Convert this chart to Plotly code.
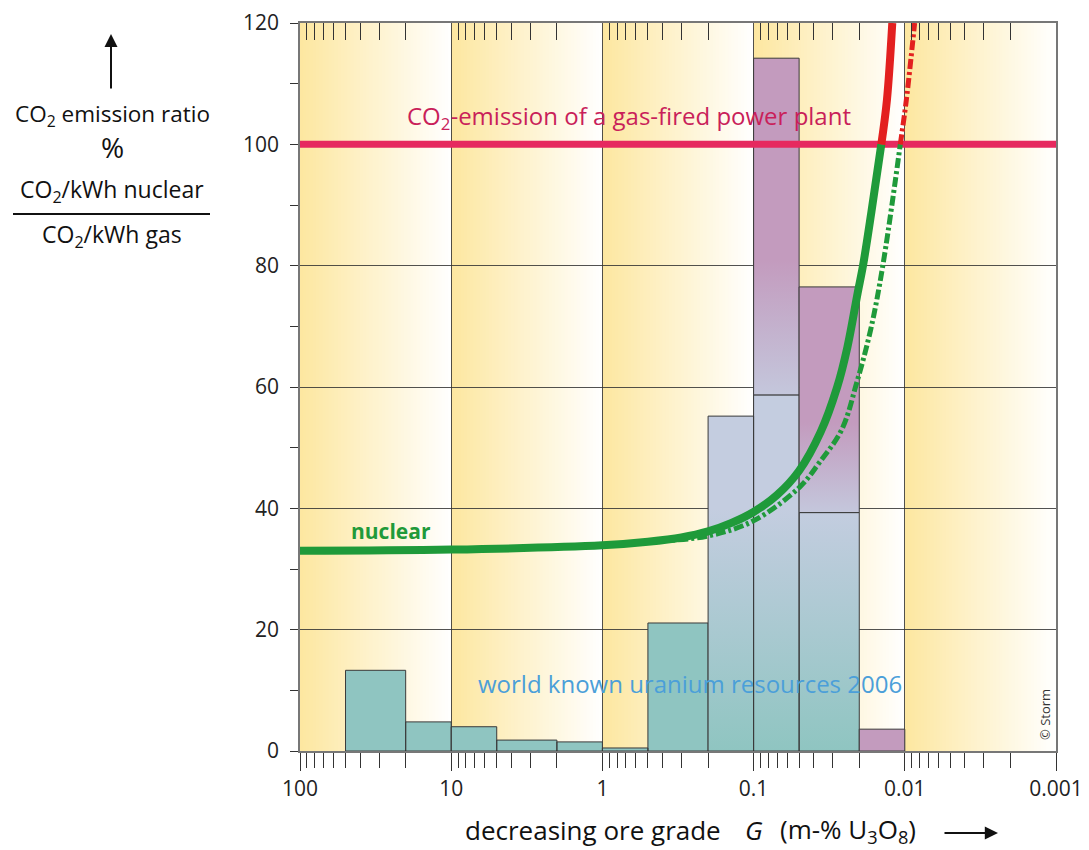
import plotly.graph_objects as go
import math

# ---------------- data ----------------
decades = [100, 10, 1, 0.1, 0.01, 0.001]
decade_labels = ["100", "10", "1", "0.1", "0.01", "0.001"]
y_ticks = [0, 20, 40, 60, 80, 100, 120]

# ore-grade bins of the uranium resources histogram (m-% U3O8)
bin_edges = [50, 20, 10, 5, 2, 1, 0.5, 0.2, 0.1, 0.05, 0.02, 0.01]
resources_lower = [13.3, 4.8, 4.0, 1.8, 1.5, 0.5, 21.1, 55.2, 58.7, 39.3, 0.0]
resources_upper = [0.0, 0.0, 0.0, 0.0, 0.0, 0.0, 0.0, 0.0, 55.5, 37.2, 3.6]

# nuclear CO2 emission ratio (%) vs ore grade, solid curve
nuclear_G = [100, 10, 1.0, 0.5, 0.3, 0.2, 0.14, 0.1, 0.07, 0.05, 0.036,
             0.028, 0.024, 0.0205, 0.0189, 0.0166, 0.0143, 0.01313, 0.0121]
nuclear_ratio = [33.0, 33.2, 33.9, 34.5, 35.2, 36.2, 37.6, 39.4, 42.2, 46.2, 52.6,
                 60.0, 66.5, 75.5, 80.0, 89.0, 100.0, 107.3, 120.0]

# alternative (dash-dot) curve
alt_G = [1.0, 0.486, 0.204, 0.101, 0.0496, 0.0366, 0.0262, 0.0208, 0.0168,
         0.01402, 0.01071, 0.00977, 0.00861]
alt_ratio = [33.8, 34.5, 35.4, 37.9, 43.5, 47.6, 52.9, 60.7, 69.5,
             79.8, 100.0, 107.3, 120.0]

gas_level = 100

# ---------------- styling ----------------
FONT = "Open Sans"
TEAL = "#8fc5c1"
BLUEGREY = "#c4cde0"
PURPLE = "#c39bbe"
PURPLE_LOW = "#c4c7dc"
GREEN = "#1f9a3a"
RED = "#e3201f"
PINK = "#e6295f"
OUTLINE = "#3a3a3a"

fig = go.Figure()

LOG_HI = math.log10(decades[0])
LOG_LO = math.log10(decades[-1])


def paper_x(v):
    return (LOG_HI - math.log10(v)) / (LOG_HI - LOG_LO)


# background: each decade fades from yellow (left) to white (right)
yellow = (253, 231, 160)
white = (255, 255, 255)
N = 48
shapes = []
for k in range(len(decades) - 1):
    p0, p1 = paper_x(decades[k]), paper_x(decades[k + 1])
    for j in range(N):
        t = j / N
        tc = (j + 0.5) / N
        c = tuple(round(yellow[i] + (white[i] - yellow[i]) * tc) for i in range(3))
        shapes.append(dict(type="rect", xref="paper", yref="paper",
                           x0=p0 + t * (p1 - p0), x1=p1, y0=0, y1=1,
                           fillcolor="rgb(%d,%d,%d)" % c, line=dict(width=0),
                           layer="below"))


def rect_path(lo_edge, hi_edge, y0, y1):
    return [hi_edge, lo_edge, lo_edge, hi_edge, hi_edge, None], [y0, y0, y1, y1, y0, None]


# short (solid teal) lower bars
xs, ys = [], []
for i in range(len(resources_lower)):
    if 0 < resources_lower[i] < 30:
        px_, py_ = rect_path(bin_edges[i + 1], bin_edges[i], 0, resources_lower[i])
        xs += px_
        ys += py_
fig.add_trace(go.Scatter(x=xs, y=ys, mode="lines", fill="toself", fillcolor=TEAL,
                         line=dict(color=OUTLINE, width=1), hoverinfo="skip",
                         showlegend=False))

# tall lower bars with vertical gradient teal -> blue-grey
xs, ys = [], []
for i in range(len(resources_lower)):
    if resources_lower[i] >= 30:
        px_, py_ = rect_path(bin_edges[i + 1], bin_edges[i], 0, resources_lower[i])
        xs += px_
        ys += py_
fig.add_trace(go.Scatter(x=xs, y=ys, mode="lines", fill="toself",
                         fillgradient=dict(type="vertical", start=0, stop=40,
                                           colorscale=[[0, TEAL], [1, BLUEGREY]]),
                         line=dict(color=OUTLINE, width=1), hoverinfo="skip",
                         showlegend=False))

# upper (purple) parts
for i in range(len(resources_upper)):
    if resources_upper[i] > 0:
        base = resources_lower[i]
        top = base + resources_upper[i]
        px_, py_ = rect_path(bin_edges[i + 1], bin_edges[i], base, top)
        if base > 0:
            grad = dict(type="vertical", start=base, stop=base + 0.4 * resources_upper[i],
                        colorscale=[[0, PURPLE_LOW], [1, PURPLE]])
            fig.add_trace(go.Scatter(x=px_, y=py_, mode="lines", fill="toself",
                                     fillgradient=grad,
                                     line=dict(color=OUTLINE, width=1), hoverinfo="skip",
                                     showlegend=False))
        else:
            fig.add_trace(go.Scatter(x=px_, y=py_, mode="lines", fill="toself",
                                     fillcolor=PURPLE,
                                     line=dict(color=OUTLINE, width=1), hoverinfo="skip",
                                     showlegend=False))

# gas-fired power plant reference line
fig.add_trace(go.Scatter(x=[decades[0], decades[-1]], y=[gas_level, gas_level],
                         mode="lines", line=dict(color=PINK, width=7),
                         hoverinfo="skip", showlegend=False))


def split(gs, rs):
    below = [(g, r) for g, r in zip(gs, rs) if r <= gas_level]
    above = [(g, r) for g, r in zip(gs, rs) if r >= gas_level]
    return below, above


DASHDOT = "10px,3px,3px,3px"
for gs, rs, w, dash in [(alt_G, alt_ratio, 5, DASHDOT), (nuclear_G, nuclear_ratio, 8, "solid")]:
    below, above = split(gs, rs)
    fig.add_trace(go.Scatter(x=[p[0] for p in below], y=[p[1] for p in below],
                             mode="lines", line=dict(color=GREEN, width=w, dash=dash, shape="spline",
                                                     smoothing=1.0),
                             hoverinfo="skip", showlegend=False))
    fig.add_trace(go.Scatter(x=[p[0] for p in above], y=[p[1] for p in above],
                             mode="lines", line=dict(color=RED, width=w, dash=dash, shape="spline",
                                                     smoothing=1.0),
                             hoverinfo="skip", showlegend=False))

# invisible trace for the top tick axis
fig.add_trace(go.Scatter(x=[10], y=[-50], xaxis="x2", yaxis="y", mode="markers",
                         marker=dict(opacity=0), hoverinfo="skip", showlegend=False))

minor_vals = [m * d / 10 for d in decades[:-1] for m in range(2, 10)]

fig.update_layout(
    width=1089, height=850,
    margin=dict(l=300, r=33, t=23, b=99),
    paper_bgcolor="white", plot_bgcolor="white",
    shapes=shapes,
    xaxis=dict(type="log", range=[LOG_HI, LOG_LO], tickvals=decades, ticktext=decade_labels,
               ticks="outside", ticklen=18, tickwidth=1.3, tickcolor="#333",
               minor=dict(tickvals=minor_vals, ticks="outside", ticklen=15, tickwidth=1.2,
                          tickcolor="#333", showgrid=False),
               showgrid=True, gridcolor="rgba(50,50,50,0.85)", gridwidth=1,
               showline=True, linecolor="#777", linewidth=1.5, mirror=True,
               zeroline=False, tickfont=dict(family=FONT, size=21, color="#222"),
               ticklabelstandoff=0, automargin=False),
    xaxis2=dict(type="log", range=[LOG_HI, LOG_LO], overlaying="x", side="top",
                tickvals=minor_vals, ticks="inside", ticklen=17, tickwidth=1.3, tickcolor="#333",
                showticklabels=False, showgrid=False, showline=False, zeroline=False,
                automargin=False),
    yaxis=dict(range=[0, 120], tickvals=y_ticks, ticks="outside", ticklen=8, tickwidth=1.3,
               tickcolor="#333",
               minor=dict(dtick=10, tick0=0, ticks="outside", ticklen=8, tickwidth=1.2,
                          tickcolor="#333", showgrid=False),
               showgrid=True, gridcolor="rgba(50,50,50,0.85)", gridwidth=1,
               showline=True, linecolor="#777", linewidth=1.5, mirror=True,
               zeroline=False, tickfont=dict(family=FONT, size=21, color="#222"),
               ticklabelstandoff=7, automargin=False),
)


def px2paper(px, py):
    return (px - 300) / 756.0, (751 - py) / 728.0


ann = []
# in-plot labels
x, y = px2paper(405, 117)
ann.append(dict(x=x, y=y, xref="paper", yref="paper", xanchor="left", yanchor="middle",
                text="CO<sub>2</sub>-emission of a gas-fired power plant", showarrow=False,
                font=dict(family=FONT, size=24, color="#c91f5a")))
x, y = px2paper(349, 531)
ann.append(dict(x=x, y=y, xref="paper", yref="paper", xanchor="left", yanchor="middle",
                text="<b>nuclear</b>", showarrow=False,
                font=dict(family=FONT, size=21, color=GREEN)))
x, y = px2paper(476, 683)
ann.append(dict(x=x, y=y, xref="paper", yref="paper", xanchor="left", yanchor="middle",
                text="world known uranium resources 2006", showarrow=False,
                font=dict(family=FONT, size=24, color="#4b9fd9")))
x, y = px2paper(1045, 715)
ann.append(dict(x=x, y=y, xref="paper", yref="paper", xanchor="center", yanchor="middle",
                text="© Storm", textangle=-90, showarrow=False,
                font=dict(family=FONT, size=13, color="#333")))

# y-axis title block
for txt, py, sz in [("CO<sub>2</sub> emission ratio", 115, 22.5), ("%", 147, 28),
                    ("CO<sub>2</sub>/kWh nuclear", 191, 23), ("CO<sub>2</sub>/kWh gas", 236, 23)]:
    x, y = px2paper(112, py)
    ann.append(dict(x=x, y=y, xref="paper", yref="paper", xanchor="center", yanchor="middle",
                    text=txt, showarrow=False, font=dict(family=FONT, size=sz, color="#111")))
x, y = px2paper(111, 34)
ann.append(dict(x=x, y=y, xref="paper", yref="paper", text="", showarrow=True,
                ax=0, ay=56, arrowhead=2, arrowsize=1.3, arrowwidth=2, arrowcolor="#111"))

# x-axis title (three pieces)
tf = dict(family=FONT, size=26, color="#111")
x, y = px2paper(463, 830)
ann.append(dict(x=x, y=y, xref="paper", yref="paper", xanchor="left", yanchor="middle",
                text="decreasing ore grade", showarrow=False, font=tf))
x, y = px2paper(754, 830)
ann.append(dict(x=x, y=y, xref="paper", yref="paper", xanchor="center", yanchor="middle",
                text="<i>G</i>", showarrow=False, font=tf))
x, y = px2paper(848, 830)
ann.append(dict(x=x, y=y, xref="paper", yref="paper", xanchor="center", yanchor="middle",
                text="(m-%\u00a0U<sub>3</sub>O<sub>8</sub>)", showarrow=False, font=tf))
x, y = px2paper(998, 833)
ann.append(dict(x=x, y=y, xref="paper", yref="paper", text="", showarrow=True,
                ax=-55, ay=0, arrowhead=2, arrowsize=1.2, arrowwidth=2.2, arrowcolor="#111"))

fig.update_layout(annotations=ann)

# fraction bar
x0, yb = px2paper(13, 214)
x1, _ = px2paper(210, 214)
fig.add_shape(type="line", xref="paper", yref="paper", x0=x0, x1=x1, y0=yb, y1=yb,
              line=dict(color="#111", width=2), layer="above")

fig.write_html("out.html")
